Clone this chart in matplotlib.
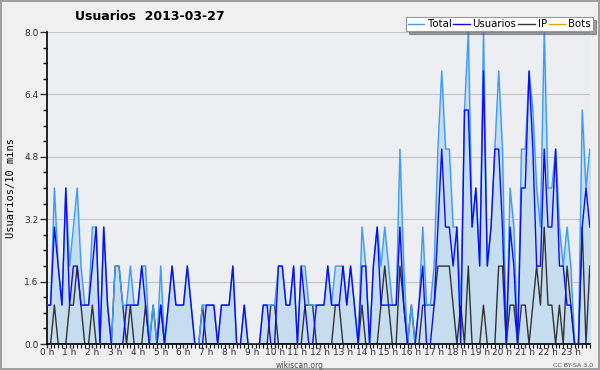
import numpy as np
import matplotlib
matplotlib.use("Agg")
import matplotlib.pyplot as plt
from matplotlib.ticker import MultipleLocator, FixedLocator

# Users per 10-minute slot, 144 slots for 2013-03-27
usuarios = [1, 1, 3, 2, 1, 4, 1, 2, 2, 1, 1, 1,
            2, 3, 0, 3, 1, 0, 0, 0, 0, 1, 1, 1,
            1, 2, 1, 0, 0, 0, 1, 0, 1, 2, 1, 1,
            1, 2, 1, 0, 0, 0, 1, 1, 1, 0, 1, 1,
            1, 2, 0, 0, 1, 0, 0, 0, 0, 1, 1, 0,
            0, 2, 2, 1, 1, 2, 0, 2, 1, 0, 0, 1,
            1, 1, 2, 1, 1, 1, 2, 1, 2, 1, 0, 2,
            2, 0, 2, 3, 1, 1, 1, 1, 1, 3, 1, 0,
            0, 0, 1, 2, 0, 0, 1, 3, 5, 3, 3, 2,
            3, 0, 6, 6, 3, 4, 2, 7, 2, 3, 5, 5,
            3, 0, 3, 2, 0, 4, 4, 7, 5, 2, 2, 5,
            3, 3, 5, 2, 2, 1, 1, 0, 0, 3, 4, 3]
ip = [0, 0, 1, 0, 0, 0, 1, 1, 2, 1, 0, 0,
      1, 0, 0, 0, 0, 0, 2, 2, 1, 0, 1, 0,
      0, 0, 1, 0, 1, 0, 1, 0, 0, 0, 0, 0,
      0, 0, 0, 0, 0, 1, 0, 0, 0, 0, 0, 0,
      0, 0, 0, 0, 0, 0, 0, 0, 0, 0, 0, 1,
      1, 0, 0, 0, 0, 0, 0, 0, 1, 1, 1, 0,
      0, 0, 0, 0, 1, 1, 0, 0, 0, 0, 0, 1,
      0, 0, 0, 0, 1, 2, 1, 0, 0, 2, 1, 0,
      1, 0, 0, 1, 1, 1, 1, 2, 2, 2, 2, 1,
      0, 1, 0, 2, 0, 0, 0, 1, 0, 0, 0, 2,
      2, 0, 1, 1, 0, 1, 1, 0, 1, 2, 1, 3,
      1, 1, 0, 1, 0, 2, 1, 0, 0, 3, 0, 2]
bots = [0] * 144
total = [u + p + b for u, p, b in zip(usuarios, ip, bots)]
hour_labels = ["%d h" % h for h in range(24)]

x = np.arange(len(total))

fig = plt.figure(figsize=(6, 3.7), dpi=100, facecolor="#f0f0f0",
                 edgecolor="#a0a0a0", linewidth=1.5)
ax = fig.add_axes([0.078, 0.070, 0.905, 0.8435])
ax.set_facecolor("#eceef1")

ax.fill_between(x, total, color="#c6dcef", zorder=1)
ax.plot(x, total, color="#3d9cf5", lw=1.0, label="Total", zorder=3)
ax.plot(x, usuarios, color="#0a0aff", lw=1.0, label="Usuarios", zorder=4)
ax.plot(x, ip, color="#333333", lw=1.0, label="IP", zorder=2)
ax.plot(x, bots, color="#ff9900", lw=1.0, label="Bots", zorder=0, alpha=0)

ax.set_xlim(0, 143)
ax.set_ylim(0, 8)
ax.yaxis.set_major_locator(MultipleLocator(1.6))
ax.yaxis.set_minor_locator(MultipleLocator(0.4))
ax.yaxis.set_major_formatter(matplotlib.ticker.FormatStrFormatter("%.1f"))
ax.xaxis.set_major_locator(FixedLocator(np.arange(0, 144, 6)))
ax.xaxis.set_minor_locator(FixedLocator(np.arange(0, 144, 1)))
ax.set_xticklabels(hour_labels)
ax.grid(axis="y", color="#c8c8c8", lw=0.9, zorder=0)
ax.set_axisbelow(True)

for s in ["top", "right"]:
    ax.spines[s].set_visible(False)
ax.spines["left"].set_linewidth(1.2)
ax.spines["bottom"].set_linewidth(1.2)
ax.tick_params(axis="y", which="major", length=5, width=1, labelsize=6.5, pad=1, colors="#333333")
ax.tick_params(axis="y", which="minor", length=3, width=1)
ax.tick_params(axis="x", which="major", length=3, width=1, labelsize=6.5, pad=0, colors="#333333")
ax.tick_params(axis="x", which="minor", length=3, width=0.8)

ax.set_ylabel("Usuarios/10 mins", family="DejaVu Sans Mono", fontsize=7.5, labelpad=6)
fig.text(0.25, 0.955, "Usuarios  2013-03-27", ha="center", va="center",
         fontsize=9, fontweight="bold")
fig.text(0.5, 0.013, "wikiscan.org", ha="center", va="center", fontsize=5.5, color="#555555")
fig.text(0.955, 0.013, "CC BY-SA 3.0", ha="center", va="center", fontsize=4.5, color="#555555")

handles, labels = ax.get_legend_handles_labels()
handles[3] = plt.Line2D([], [], color="#ff9900", lw=1.0)
leg = fig.legend(handles, labels, loc="upper right", bbox_to_anchor=(0.988, 0.953),
                 ncol=4, fontsize=7.3, frameon=True, fancybox=False, shadow=True,
                 handlelength=1.6, handletextpad=0.3, columnspacing=0.2,
                 borderpad=0.2, borderaxespad=0)
leg.get_frame().set_edgecolor("#999999")
leg.get_frame().set_linewidth(0.8)

fig.savefig("out.png", dpi=100, facecolor=fig.get_facecolor(), edgecolor=fig.get_edgecolor())
